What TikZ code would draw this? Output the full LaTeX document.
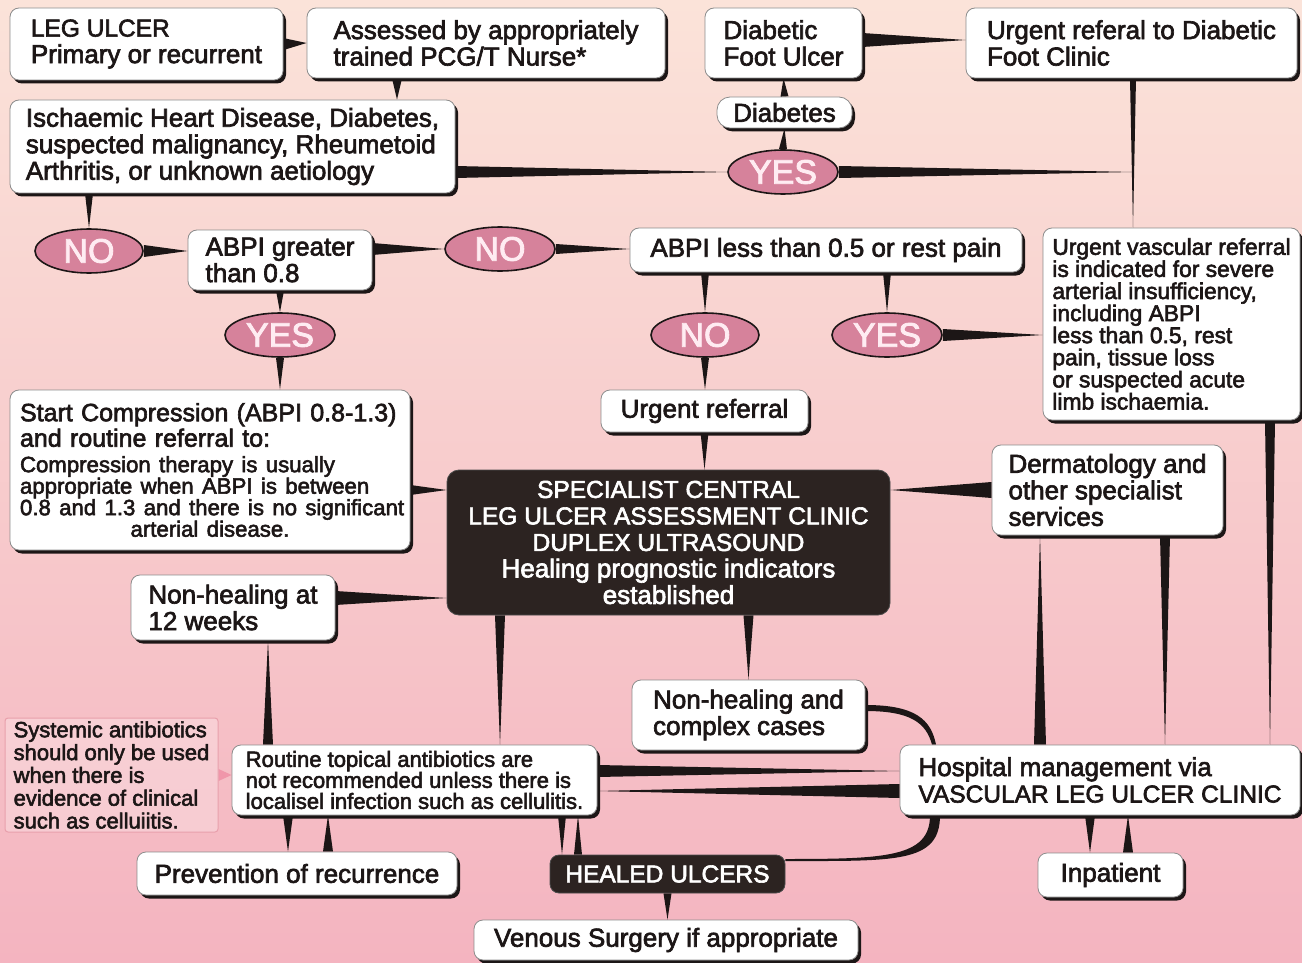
\documentclass[tikz,border=0pt]{standalone}
\usepackage{fontspec}
\setmainfont{Liberation Sans}[RawFeature={embolden=2.5}]
\usetikzlibrary{shapes.geometric,shadows,calc}
\setlength\parindent{0pt}
\pgfdeclarelayer{back}
\pgfdeclarelayer{links}
\pgfsetlayers{back,links,main}
\definecolor{bgtop}{RGB}{251,227,217}
\definecolor{bgmid}{RGB}{248,204,200}
\definecolor{bgbot}{RGB}{244,180,192}
\definecolor{ink}{RGB}{28,22,22}
\definecolor{darkbox}{RGB}{44,35,33}
\definecolor{oval}{RGB}{214,130,155}
\definecolor{ovaltext}{RGB}{255,236,242}
\definecolor{arrowpink}{RGB}{240,150,170}
\definecolor{sysline}{RGB}{232,160,172}
\newcommand\fsA{\fontsize{26}{26.5}\selectfont}
\newcommand\fsC{\fontsize{24.5}{26.5}\selectfont}
\newcommand\fsT{\fontsize{25}{25.5}\selectfont}
\newcommand\fsB{\fontsize{22.2}{21.5}\selectfont}
\newcommand\fsV{\fontsize{22.8}{22.1}\selectfont}
\newcommand\fsR{\fontsize{22}{21}\selectfont}
\newcommand\fsS{\fontsize{22}{22.8}\selectfont}
\newcommand\wdg[4][ink]{\fill[#1] ($(#2)!#4!90:(#3)$) -- (#3) -- ($(#2)!#4!-90:(#3)$) -- cycle;}
\tikzset{
  box/.style={rectangle, rounded corners=9pt, fill=white, draw=black!45, line width=0.8pt,
    drop shadow={shadow xshift=3pt, shadow yshift=-3.5pt, fill=ink, opacity=1},
    align=left, font=\fsA, text=ink, inner sep=0pt},
  dark/.style={rectangle, rounded corners=12pt, fill=darkbox, draw=black!70, line width=0.8pt,
    align=center, font=\fsA, text=white, inner sep=0pt},
  yn/.style={ellipse, fill=oval, draw=ink, line width=1.6pt, text=ovaltext,
    font=\fontsize{34}{34}\selectfont, minimum width=110pt, minimum height=44pt, inner sep=0pt},
  sysbox/.style={rectangle, rounded corners=3pt, fill=white, fill opacity=0.25, text opacity=1,
    draw=sysline, line width=1pt, align=left, font=\fsS, text=ink, inner sep=0pt},
}
\begin{document}
\begin{tikzpicture}[x=1pt,y=-1pt]
\useasboundingbox (0,0) rectangle (1302,963);
\begin{pgfonlayer}{back}
\shade[top color=bgtop, middle color=bgmid, bottom color=bgbot] (0,0) rectangle (1302,963);
\end{pgfonlayer}

% nodes
\node[box, minimum width=273pt, minimum height=72pt] (leg) at (146.5,44) {{\fsC LEG ULCER}\\Primary or recurrent};
\node[box, minimum width=358pt, minimum height=70pt] (assess) at (486,43) {Assessed by appropriately\\trained PCG/T Nurse*};
\node[box, minimum width=157pt, minimum height=70pt] (dfu) at (783.5,43) {Diabetic\\Foot Ulcer};
\node[box, minimum width=331pt, minimum height=70pt] (urgdf) at (1131.5,43) {Urgent referal to Diabetic\\Foot Clinic};
\node[box, rounded corners=13pt, minimum width=135pt, minimum height=31pt] (diab) at (784.5,112.5) {Diabetes};
\node[box, minimum width=445pt, minimum height=93pt] (isch) at (232.5,146.5) {Ischaemic Heart Disease, Diabetes,\\suspected malignancy, Rheumetoid\\Arthritis, or unknown aetiology};
\node[yn] (yesT) at (783,172) {YES};
\node[yn, minimum width=108pt] (noL) at (89,251) {NO};
\node[box, minimum width=184pt, minimum height=60pt] (abpig) at (280,260) {ABPI greater\\than 0.8};
\node[yn] (noM) at (500,249) {NO};
\node[box, minimum width=392pt, minimum height=44pt, align=center] (abpil) at (826,250) {ABPI less than 0.5 or rest pain};
\node[box, minimum width=257pt, minimum height=192pt, font=\fsV] (urgvasc) at (1171.5,324) {Urgent vascular referral\\is indicated for severe\\arterial insufficiency,\\including ABPI\\less than 0.5, rest\\pain, tissue loss\\or suspected acute\\limb ischaemia.};
\node[yn] (yesL) at (280,335) {YES};
\node[yn, minimum width=108pt] (noC) at (705,335) {NO};
\node[yn] (yesC) at (887,335) {YES};
\node[box, minimum width=400pt, minimum height=160pt, text width=380pt, font=\fsT] (start) at (210,470)
  {\mbox{Start Compression (ABPI 0.8-1.3)}\\\mbox{and routine referral to:}\par\vspace{4pt}%
   {\fsB\mbox{Compression therapy is usually}\\\mbox{appropriate when ABPI is between}\\\mbox{0.8 and 1.3 and there is no significant}\\\makebox[\hsize]{arterial disease.}\par}};
\node[box, minimum width=207pt, minimum height=42pt] (urgref) at (704.5,411) {Urgent referral};
\node[dark, minimum width=443pt, minimum height=145pt] (spec) at (668.5,542.5) {{\fsC SPECIALIST CENTRAL}\\{\fsC LEG ULCER ASSESSMENT CLINIC}\\{\fsC DUPLEX ULTRASOUND}\\Healing prognostic indicators\\established};
\node[box, minimum width=231pt, minimum height=90pt] (derm) at (1107.5,490) {Dermatology and\\other specialist\\services};
\node[box, minimum width=204pt, minimum height=65pt] (nh12) at (233,607.5) {Non-healing at\\12 weeks};
\node[box, minimum width=233pt, minimum height=70pt] (nhc) at (748.5,715) {Non-healing and\\complex cases};
\node[sysbox, minimum width=213pt, minimum height=114pt] (sys) at (111.5,775) {Systemic antibiotics\\should only be used\\when there is\\evidence of clinical\\such as celluiitis.};
\node[box, minimum width=365pt, minimum height=70pt, font=\fsR] (routine) at (414.5,780) {Routine topical antibiotics are\\not recommended unless there is\\localisel infection such as cellulitis.};
\node[box, minimum width=400pt, minimum height=70pt] (hosp) at (1100,780) {Hospital management via\\{\fsC VASCULAR LEG ULCER CLINIC}};
\node[box, minimum width=320pt, minimum height=43pt] (prev) at (297,873.5) {Prevention of recurrence};
\node[dark, minimum width=235pt, minimum height=38pt, rounded corners=9pt] (healed) at (667.5,874) {{\fsC HEALED ULCERS}};
\node[box, minimum width=145pt, minimum height=44pt] (inpat) at (1110.5,875) {Inpatient};
\node[box, minimum width=384pt, minimum height=40pt] (venous) at (666,940) {Venous Surgery if appropriate};

\coordinate (j1) at (1133,0 |- yesT.east);

% connectors
\begin{pgfonlayer}{links}
\wdg{leg.east}{assess.west}{6pt}
\wdg{397,0 |- assess.south}{397,0 |- isch.north}{5pt}
\wdg{89,0 |- isch.south}{noL.north}{4pt}
\wdg{isch.east |- yesT.west}{yesT.west}{6pt}
\wdg{yesT.north}{diab.south}{4pt}
\wdg{diab.north}{dfu.south}{4pt}
\wdg{yesT.east}{j1}{6pt}
\wdg{dfu.east |- 0,40}{urgdf.west |- 0,40}{7pt}
\wdg{1133,0 |- urgdf.south}{1133,0 |- urgvasc.north}{3pt}
\wdg{noL.east}{abpig.west |- noL.east}{6pt}
\wdg{abpig.east |- noM.west}{noM.west}{6pt}
\wdg{noM.east}{abpil.west |- noM.east}{5pt}
\wdg{abpig.south}{yesL.north}{4pt}
\wdg{yesL.south}{yesL.south |- start.north}{4pt}
\wdg{noC.north |- abpil.south}{noC.north}{4pt}
\wdg{yesC.north |- abpil.south}{yesC.north}{4pt}
\wdg{noC.south}{noC.south |- urgref.north}{4pt}
\wdg{yesC.east}{urgvasc.west |- yesC.east}{6pt}
\wdg{urgref.south}{urgref.south |- spec.north}{4pt}
\wdg{start.east |- 0,490}{spec.west |- 0,490}{5pt}
\wdg{derm.west}{spec.east |- derm.west}{8pt}
\wdg{nh12.east |- 0,598}{spec.west |- 0,598}{7pt}
\wdg{268,0 |- routine.north}{268,0 |- nh12.south}{5pt}
\wdg{500,0 |- spec.south}{500,0 |- routine.north}{5pt}
\wdg{nhc.north |- spec.south}{nhc.north}{5pt}
\wdg{288,0 |- routine.south}{288,0 |- prev.north}{5pt}
\wdg{328,0 |- prev.north}{328,0 |- routine.south}{5pt}
\wdg{562,0 |- routine.south}{562,0 |- healed.north}{4pt}
\wdg{578,0 |- healed.north}{578,0 |- routine.south}{4pt}
\wdg{healed.south}{healed.south |- venous.north}{4pt}
\wdg{routine.east |- 0,771}{hosp.west |- 0,771}{6pt}
\wdg{hosp.west |- 0,791}{routine.east |- 0,791}{7pt}
\wdg{1040,0 |- hosp.north}{1040,0 |- derm.south}{6pt}
\wdg{1165,0 |- derm.south}{1165,0 |- hosp.north}{5pt}
\wdg{1270,0 |- urgvasc.south}{1270,0 |- hosp.north}{5pt}
\wdg{1090,0 |- hosp.south}{1090,0 |- inpat.north}{5pt}
\wdg{1128,0 |- inpat.north}{1128,0 |- hosp.south}{5pt}
\wdg[arrowpink]{sys.east}{routine.west |- sys.east}{6pt}
% curved connectors
\fill[ink] ($(nhc.east)+(0,-10)$) .. controls +(50,0) and +(-5,-25) .. (936,0 |- hosp.north)
  -- (932,0 |- hosp.north) .. controls +(-6,-22) and +(45,0) .. ($(nhc.east)+(0,-4)$) -- cycle;
\fill[ink] (930,0 |- hosp.south) -- (940,0 |- hosp.south) .. controls +(0,48) and +(110,0) .. ($(healed.east)+(0,-13)$)
  -- ($(healed.east)+(0,-15)$) .. controls +(100,0) and +(0,42) .. (930,0 |- hosp.south) -- cycle;
\end{pgfonlayer}
\end{tikzpicture}
\end{document}
